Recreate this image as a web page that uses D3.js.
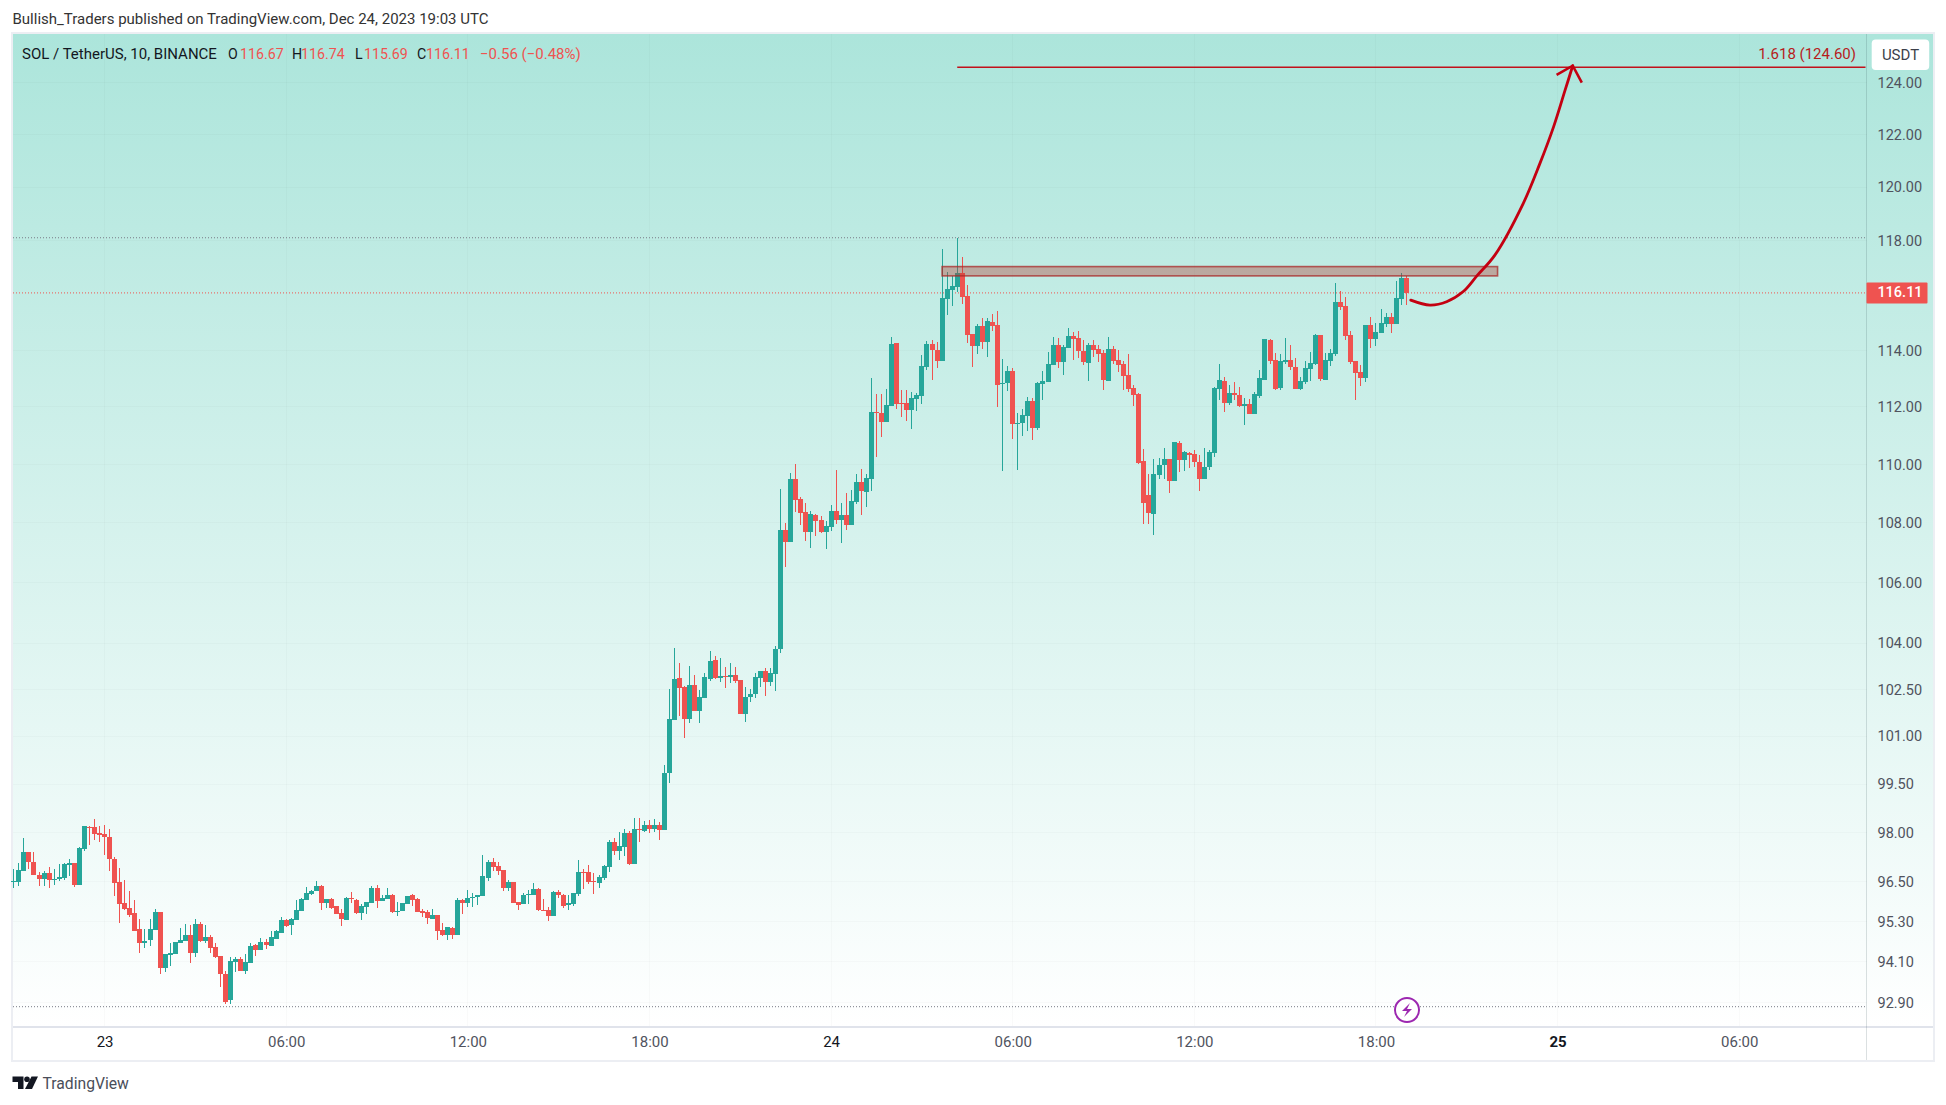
<!DOCTYPE html>
<html>
<head>
<meta charset="utf-8">
<title>SOL / TetherUS</title>
<script src="https://cdnjs.cloudflare.com/ajax/libs/d3/7.8.5/d3.min.js"></script>
<style>
  html, body { margin: 0; padding: 0; background: #fff; overflow: hidden; }
  svg { display: block; font-family: Roboto, sans-serif; }
  .domain { display: none; }
</style>
</head>
<body>
<svg id="chart" width="1946" height="1105"></svg>
<script>
'use strict';

// candles every 10 min, the first one sits 18 bars before 23 Dec 00:00
var firstBar = -18;
var opens = [
  96.56,96.56,96.92,97.49,97.19,96.79,96.65,96.85,96.65,96.65,
  96.68,97.08,97.16,96.47,97.58,98.26,98.26,98.05,98.02,97.95,
  97.28,96.58,95.93,95.78,95.63,95.15,94.75,94.83,95.13,95.66,
  94.00,94.39,94.42,94.75,94.81,95.00,94.45,95.30,94.82,94.92,
  94.62,94.35,93.83,93.06,94.20,94.27,93.92,94.16,94.68,94.55,
  94.77,94.65,94.86,95.06,95.42,95.27,95.42,95.69,96.04,96.22,
  96.29,96.46,95.93,96.07,95.84,95.63,95.42,96.10,96.04,95.63,
  95.81,95.95,96.40,96.01,96.07,96.19,95.69,95.69,95.92,96.19,
  96.07,95.69,95.66,95.45,95.57,95.12,95.00,95.18,95.00,96.04,
  95.95,96.10,96.11,96.16,96.70,97.19,97.07,96.94,96.40,96.58,
  95.98,95.90,96.19,96.19,96.37,95.72,95.72,95.54,96.28,96.19,
  95.88,95.90,96.22,96.89,96.89,96.61,96.55,96.70,97.04,97.80,
  97.52,97.64,98.08,97.13,98.20,98.14,98.32,98.20,98.32,98.17,
  99.93,101.58,102.93,102.64,101.61,102.70,101.87,102.29,102.90,103.51,
  102.93,102.99,102.96,103.03,102.86,101.78,102.32,102.42,102.93,103.16,
  102.80,103.06,103.86,107.81,107.40,109.55,108.86,108.42,107.74,108.32,
  108.14,107.74,107.91,108.45,108.14,108.32,107.98,108.76,109.44,109.09,
  109.55,111.87,111.84,111.52,112.08,114.31,112.19,112.19,111.94,112.32,
  112.43,113.45,114.27,114.06,113.67,115.89,116.22,116.33,116.84,116.00,
  114.63,114.20,114.92,114.35,115.06,114.95,112.87,112.87,113.31,111.46,
  111.49,111.73,112.25,111.31,112.85,112.92,113.52,114.24,113.63,114.13,
  114.56,114.49,114.02,113.60,114.24,114.10,113.95,112.95,114.10,113.70,
  113.56,113.17,112.71,112.50,110.18,109.01,108.34,109.69,110.01,110.24,
  109.49,110.79,110.20,110.45,110.41,110.14,109.56,109.97,110.45,112.67,
  112.95,112.18,112.53,112.46,112.08,112.15,111.80,112.43,112.99,114.42,
  113.70,112.71,113.64,113.70,113.45,112.67,112.92,113.38,113.56,114.59,
  112.99,113.67,113.92,115.78,115.64,114.58,113.67,113.27,113.06,114.95,
  114.44,114.65,114.98,115.24,114.98,115.90,116.67
];
var highs = [
  96.96,97.15,97.91,97.49,97.49,96.87,96.92,97.03,96.96,97.12,
  97.15,97.27,97.16,97.65,98.29,98.27,98.49,98.27,98.32,98.19,
  97.33,97.00,96.64,96.31,96.04,95.45,95.15,95.45,95.75,95.66,
  94.41,94.76,94.77,95.18,95.32,95.27,95.47,95.38,95.27,95.00,
  94.74,94.35,93.91,94.32,94.32,94.32,94.41,94.74,94.71,94.91,
  94.88,95.10,95.13,95.51,95.45,95.48,96.04,96.09,96.41,96.34,
  96.61,96.49,96.07,96.10,95.84,95.77,96.12,96.28,96.07,95.90,
  95.98,96.46,96.48,96.19,96.40,96.22,95.98,95.95,96.16,96.22,
  96.10,95.75,95.72,95.75,95.57,95.33,95.21,95.21,96.10,96.07,
  96.34,96.24,96.19,97.40,97.25,97.31,97.19,96.94,96.64,96.58,
  95.98,96.25,96.34,96.55,96.40,96.07,95.81,96.31,96.34,96.22,
  96.19,96.25,97.25,96.98,97.10,96.85,96.79,97.10,97.86,97.92,
  98.11,98.20,98.14,98.53,98.53,98.44,98.47,98.50,98.41,100.18,
  102.57,103.89,103.41,102.67,103.32,103.03,102.54,103.09,103.80,103.64,
  103.58,103.29,103.41,103.29,102.86,102.64,102.57,103.09,103.16,103.25,
  103.25,103.96,109.20,108.05,109.75,110.06,108.93,108.72,108.45,108.35,
  108.28,108.11,108.66,109.85,108.72,109.07,109.17,109.72,109.89,109.72,
  113.07,112.50,112.50,112.68,114.53,114.31,112.64,112.64,112.57,112.54,
  113.88,114.38,114.41,114.35,117.72,116.88,116.73,118.13,117.43,116.40,
  114.63,115.00,115.20,115.20,115.35,115.46,113.74,113.49,113.42,111.83,
  111.97,112.40,112.36,112.92,113.31,113.99,114.53,114.49,114.24,114.85,
  114.70,114.74,114.42,114.31,114.42,114.24,114.06,114.52,114.20,114.06,
  113.67,113.92,112.81,112.53,110.58,109.72,110.24,110.28,110.62,110.24,
  110.83,110.86,110.52,110.48,110.55,110.38,110.62,110.55,112.74,113.56,
  113.10,112.81,112.92,112.74,112.36,112.33,112.57,113.34,114.45,114.45,
  113.95,113.92,114.49,114.24,113.77,113.10,113.67,113.99,114.64,114.59,
  113.95,114.10,116.47,116.18,115.97,114.74,113.67,113.52,114.95,115.24,
  115.02,115.53,115.38,115.38,116.54,116.84,116.74
];
var lows = [
  96.39,96.44,96.92,96.96,96.77,96.44,96.44,96.38,96.47,96.59,
  96.64,96.74,96.41,96.47,97.52,97.71,97.86,97.78,97.40,96.92,
  96.14,95.33,95.73,95.53,95.09,94.44,94.61,94.66,95.13,93.83,
  93.88,94.07,94.42,94.75,94.81,94.17,94.33,94.79,94.76,94.46,
  94.31,93.46,92.95,92.97,93.90,93.92,93.83,94.16,94.36,94.53,
  94.56,94.65,94.86,95.06,95.22,95.00,95.42,95.69,96.04,96.19,
  96.29,95.72,95.80,95.75,95.60,95.24,95.42,95.93,95.61,95.42,
  95.60,95.95,95.78,96.01,96.07,95.63,95.54,95.69,95.92,95.84,
  95.66,95.51,95.30,95.45,94.83,94.96,94.83,94.86,95.00,95.60,
  95.81,95.83,95.89,96.16,96.61,96.92,96.77,96.31,96.31,95.95,
  95.72,95.90,95.90,96.19,95.69,95.69,95.39,95.54,96.10,95.78,
  95.72,95.84,96.16,96.37,96.52,96.22,96.40,96.64,96.88,97.40,
  97.25,97.37,97.10,97.13,97.80,98.11,98.05,98.11,97.86,98.17,
  99.62,101.58,101.71,101.01,101.49,101.87,101.49,102.29,102.83,102.90,
  102.80,102.61,102.77,102.77,101.78,101.52,102.16,102.29,102.64,102.37,
  102.67,102.51,103.74,106.56,107.40,108.42,107.98,107.43,107.20,107.60,
  107.71,107.17,107.77,108.00,107.37,107.81,107.98,108.69,108.32,108.59,
  109.14,110.30,111.00,111.52,112.08,111.97,111.69,111.55,111.27,111.91,
  112.15,113.34,112.99,113.42,113.67,115.31,115.64,116.15,115.71,114.31,
  113.45,113.92,114.09,113.81,114.74,112.04,109.81,112.61,110.93,109.85,
  111.03,111.21,110.89,111.24,112.29,112.92,113.52,113.42,113.17,114.13,
  113.70,113.77,113.51,112.95,113.81,113.63,112.64,112.95,113.56,113.27,
  112.64,112.57,112.08,110.07,108.00,108.00,107.66,109.55,109.55,109.08,
  109.46,109.80,109.83,109.94,109.97,109.12,109.56,109.87,110.31,112.29,
  111.87,112.11,112.29,112.04,111.42,111.80,111.80,112.36,112.99,113.56,
  112.64,112.64,113.56,113.34,112.67,112.64,112.85,112.95,113.52,112.95,
  112.99,113.49,113.85,115.49,114.42,113.56,112.29,112.77,112.92,114.13,
  114.20,114.65,114.87,114.65,114.98,115.67,115.69
];
var closes = [
  96.60,96.94,97.49,97.17,96.77,96.65,96.85,96.62,96.67,96.72,
  97.13,97.15,96.47,97.61,98.29,98.24,98.03,97.99,97.93,97.26,
  96.53,95.91,95.75,95.58,95.11,94.75,94.82,95.15,95.66,94.00,
  94.41,94.44,94.77,94.83,95.00,94.45,95.30,94.82,94.92,94.59,
  94.33,93.83,93.02,94.21,94.27,93.92,94.18,94.65,94.53,94.77,
  94.68,94.92,95.09,95.42,95.24,95.45,95.72,96.07,96.25,96.30,
  96.46,95.93,96.07,95.78,95.60,95.45,96.10,96.08,95.63,95.84,
  95.98,96.40,96.01,96.10,96.19,95.66,95.71,95.95,96.16,96.04,
  95.66,95.63,95.48,95.57,95.09,95.00,95.21,95.00,96.04,95.95,
  96.10,96.13,96.19,96.76,97.19,97.04,96.92,96.40,96.58,95.95,
  95.87,96.19,96.22,96.37,95.72,95.70,95.54,96.28,96.19,95.84,
  95.93,96.25,96.89,96.87,96.58,96.58,96.73,97.07,97.80,97.52,
  97.67,98.08,97.13,98.20,98.18,98.32,98.20,98.32,98.17,99.93,
  101.61,102.90,102.61,101.61,102.70,101.87,102.32,102.96,103.48,102.93,
  102.99,102.96,103.03,102.83,101.78,102.32,102.42,102.96,103.16,102.80,
  103.09,103.86,107.81,107.40,109.55,108.83,108.38,107.74,108.35,108.11,
  107.74,107.94,108.45,108.14,108.32,107.98,108.79,109.44,109.13,109.58,
  111.87,111.85,111.52,112.11,114.27,112.15,112.16,111.94,112.36,112.46,
  113.49,114.27,114.06,113.67,115.93,116.26,116.36,116.84,115.96,114.59,
  114.20,114.92,114.35,115.09,114.92,112.82,112.89,113.31,111.45,111.49,
  111.77,112.25,111.31,112.89,112.96,113.56,114.24,113.63,114.17,114.56,
  114.45,114.02,113.63,114.24,114.06,113.92,112.99,114.10,113.67,113.52,
  113.13,112.67,112.46,110.11,108.71,108.37,109.72,110.04,110.24,109.49,
  110.83,110.20,110.48,110.38,110.14,109.56,109.97,110.48,112.71,112.99,
  112.18,112.53,112.46,112.08,112.15,111.80,112.50,113.06,114.45,113.67,
  112.67,113.67,113.70,113.45,112.67,112.95,113.41,113.60,114.59,113.02,
  113.70,113.95,115.78,115.60,114.54,113.63,113.24,113.06,114.95,114.44,
  114.69,115.02,115.24,114.98,115.93,116.67,116.11
];

var priceTicks = [124,122,120,118,114,112,110,108,106,104,102.5,101,99.5,98,96.5,95.3,94.1,92.9];
var timeTicks = [0,36,72,108,144,180,216,252,288,324];
var timeLabels = ['23','06:00','12:00','18:00','24','06:00','12:00','18:00','25','06:00'];

// drawings on the chart, bar index / price
var visibleHigh = 118.13, visibleLow = 92.88, lastPrice = 116.11;
var zoneBars = [166, 276.1], zonePrices = [117.07, 116.73];
var targetBars = [169, 345], targetPrice = 124.6;
var curveBars = [258.9,262.7,266,269.3,272,275.6,281.2,284.5,287.2,289.5,291];
var curvePrices = [115.85,115.67,115.79,116.16,116.73,117.50,119.41,120.91,122.30,123.72,124.66];
var headBars = [287.8,291,292.8];
var headPrices = [124.3,124.66,124.0];

// legend pieces, text with its left edge and colour
var legendText = ['SOL / TetherUS, 10, BINANCE','O','116.67','H','116.74','L','115.69','C','116.11','\u22120.56 (\u22120.48%)'];
var legendX = [22,228,240,292,301,355,364,417,426,480];
var legendRed = [false,false,true,false,true,false,true,false,true,true];

var svg = d3.select('#chart');
var paneL = 13, paneT = 34, paneR = 1866.5, paneB = 1027, outerR = 1933, outerB = 1060;

var x = d3.scaleLinear().domain([0, 288]).range([104.6, 1557.6]);
var y = d3.scaleLog().domain([124, 92.9]).range([82.7, 1006]);
// the printed tick labels sit slightly tighter than the candles
var yLabels = d3.scaleLog().domain([124, 92.9]).range([82.7, 1002.7]);

var grad = svg.append('defs').append('linearGradient')
  .attr('id', 'bg').attr('x1', 0).attr('x2', 0).attr('y1', 0).attr('y2', 1);
grad.append('stop').attr('offset', 0).attr('stop-color', '#ace5db');
grad.append('stop').attr('offset', 1).attr('stop-color', '#ffffff');

svg.append('rect').attr('x', paneL).attr('y', paneT)
  .attr('width', outerR - paneL).attr('height', paneB - paneT).attr('fill', 'url(#bg)');

// grid
var grid = svg.append('g').attr('stroke', 'rgba(42,46,57,0.025)').attr('shape-rendering', 'crispEdges');
grid.selectAll('.v').data(timeTicks).enter().append('line')
  .attr('x1', x).attr('x2', x).attr('y1', paneT).attr('y2', paneB);
grid.selectAll('.h').data(priceTicks).enter().append('line')
  .attr('x1', paneL).attr('x2', paneR).attr('y1', yLabels).attr('y2', yLabels);

// frame
var frame = svg.append('g').attr('fill', 'none').attr('shape-rendering', 'crispEdges');
frame.append('rect').attr('x', paneL - 1).attr('y', paneT - 1)
  .attr('width', outerR - paneL + 2).attr('height', outerB - paneT + 2)
  .attr('stroke', '#eceef3').attr('stroke-width', 2);
frame.append('line').attr('x1', paneL).attr('x2', outerR).attr('y1', paneB).attr('y2', paneB)
  .attr('stroke', '#e0e3eb').attr('stroke-width', 1.5);
frame.append('line').attr('x1', paneR).attr('x2', paneR).attr('y1', paneT).attr('y2', outerB)
  .attr('stroke', 'rgba(42,70,80,0.17)');

// high, low and last price lines
function dotted(price, color) {
  svg.append('line').attr('x1', paneL).attr('x2', paneR)
    .attr('y1', y(price)).attr('y2', y(price))
    .attr('stroke', color).attr('stroke-dasharray', '1 2');
}
dotted(visibleHigh, '#787b86');
dotted(visibleLow, '#787b86');
dotted(lastPrice, '#ef5350');

// candles
var bars = d3.range(opens.length).map(function (i) {
  return { bar: firstBar + i, o: opens[i], h: highs[i], l: lows[i], c: closes[i] };
});
function candleColor(d) { return d.c >= d.o ? '#26a69a' : '#ef5350'; }
var candles = svg.append('g').attr('shape-rendering', 'crispEdges');
candles.selectAll('.wick').data(bars).enter().append('rect')
  .attr('x', function (d) { return x(d.bar) - 0.5; })
  .attr('width', 1)
  .attr('y', function (d) { return y(d.h); })
  .attr('height', function (d) { return y(d.l) - y(d.h); })
  .attr('fill', candleColor);
candles.selectAll('.body').data(bars).enter().append('rect')
  .attr('x', function (d) { return x(d.bar) - 2.5; })
  .attr('width', 5)
  .attr('y', function (d) { return y(Math.max(d.o, d.c)); })
  .attr('height', function (d) { return Math.max(1, Math.abs(y(d.o) - y(d.c))); })
  .attr('fill', candleColor);

// resistance zone
svg.append('rect')
  .attr('x', x(zoneBars[0])).attr('width', x(zoneBars[1]) - x(zoneBars[0]))
  .attr('y', y(zonePrices[0])).attr('height', y(zonePrices[1]) - y(zonePrices[0]))
  .attr('fill', 'rgba(178,60,50,0.38)').attr('stroke', 'rgba(170,40,40,0.75)').attr('stroke-width', 1.6);

// target line and label
svg.append('line')
  .attr('x1', x(targetBars[0])).attr('x2', paneR - 1)
  .attr('y1', y(targetPrice)).attr('y2', y(targetPrice))
  .attr('stroke', '#c2101a').attr('stroke-width', 1.3);
svg.append('text').attr('x', 1856).attr('y', 53.5).attr('text-anchor', 'end')
  .attr('dominant-baseline', 'central').attr('font-size', 15).attr('fill', '#b71c1c')
  .text('1.618 (124.60)');

// hand drawn arrow
var arrowLine = d3.line().curve(d3.curveCatmullRom.alpha(0.5))
  .x(function (d) { return x(d[0]); }).y(function (d) { return y(d[1]); });
svg.append('path').datum(d3.zip(curveBars, curvePrices))
  .attr('d', arrowLine).attr('fill', 'none')
  .attr('stroke', '#c40011').attr('stroke-width', 2.8).attr('stroke-linecap', 'round');
svg.append('path').datum(d3.zip(headBars, headPrices))
  .attr('d', d3.line().x(function (d) { return x(d[0]); }).y(function (d) { return y(d[1]); }))
  .attr('fill', 'none').attr('stroke', '#c40011').attr('stroke-width', 2.6);

// price axis
var yAxis = svg.append('g').attr('transform', 'translate(' + paneR + ',0)')
  .call(d3.axisRight(yLabels).tickValues(priceTicks).tickFormat(d3.format('.2f')).tickSize(0).tickPadding(11));
yAxis.selectAll('text').attr('font-family', 'Roboto, sans-serif').attr('font-size', 14.5).attr('fill', '#50535e');

// time axis
var xAxis = svg.append('g').attr('transform', 'translate(0,' + paneB + ')')
  .call(d3.axisBottom(x).tickValues(timeTicks)
    .tickFormat(function (d, i) { return timeLabels[i]; }).tickSize(0).tickPadding(9));
xAxis.selectAll('text').attr('font-family', 'Roboto, sans-serif').attr('font-size', 15)
  .attr('fill', function (d, i) { return timeLabels[i].length === 2 ? '#131722' : '#50535e'; })
  .attr('font-weight', function (d, i) { return timeLabels[i] === '25' ? 700 : 400; });

// currency button and last price tag
svg.append('rect').attr('x', 1871.7).attr('y', 39.5).attr('width', 57.5).attr('height', 30.5)
  .attr('rx', 4).attr('fill', '#fff');
svg.append('text').attr('x', 1900.5).attr('y', 54.5).attr('text-anchor', 'middle')
  .attr('dominant-baseline', 'central').attr('font-size', 15).attr('fill', '#3c3f4a').text('USDT');
svg.append('rect').attr('x', paneR).attr('y', y(lastPrice) - 10.5).attr('width', 61).attr('height', 21)
  .attr('rx', 1).attr('fill', '#ef5350');
svg.append('text').attr('x', 1900).attr('y', y(lastPrice)).attr('text-anchor', 'middle')
  .attr('dominant-baseline', 'central').attr('font-size', 14.5).attr('font-weight', 500).attr('fill', '#fff')
  .text(d3.format('.2f')(lastPrice));

// header and legend
svg.append('text').attr('x', 12.5).attr('y', 19).attr('dominant-baseline', 'central')
  .attr('font-size', 15).attr('fill', '#333').text('Bullish_Traders published on TradingView.com, Dec 24, 2023 19:03 UTC');
svg.selectAll('.legend').data(legendText).enter().append('text')
  .attr('x', function (d, i) { return legendX[i]; }).attr('y', 53.5)
  .attr('dominant-baseline', 'central')
  .attr('font-size', function (d, i) { return i === 0 || i === 9 ? 15 : 14.2; })
  .attr('fill', function (d, i) { return legendRed[i] ? '#ef5350' : '#131722'; })
  .text(function (d) { return d; });

// lightning mark
var bolt = svg.append('g').attr('transform', 'translate(1407,1010)');
bolt.append('circle').attr('r', 12).attr('fill', '#fff').attr('stroke', '#9c27b0').attr('stroke-width', 2);
bolt.append('path').attr('d', 'M3-7L-5 1H0L-3 7L5-1H0Z').attr('fill', '#9c27b0');

// footer logo
var logo = svg.append('g').attr('transform', 'translate(12.5,1076.5)').attr('fill', '#131722');
logo.append('path').attr('d', 'M0 0H11V12.5H5.5V5.5H0Z');
logo.append('circle').attr('cx', 14.5).attr('cy', 2.8).attr('r', 2.8);
logo.append('path').attr('d', 'M19 0H25.5L19.5 12.5H12.5Z');
svg.append('text').attr('x', 42.5).attr('y', 1083).attr('dominant-baseline', 'central')
  .attr('font-size', 15.7).attr('fill', '#4a4e59').text('TradingView');
</script>
</body>
</html>
